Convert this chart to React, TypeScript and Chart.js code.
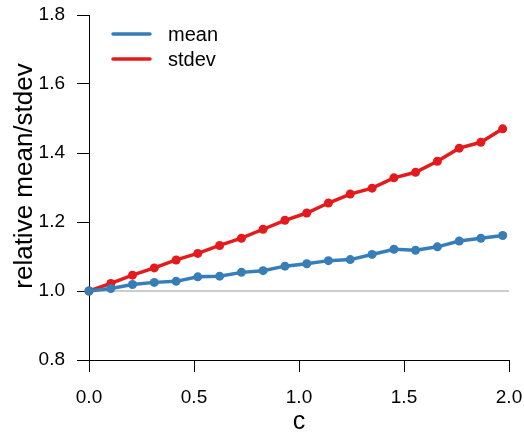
import React, { useEffect, useRef } from "react";
import { Chart, registerables } from "chart.js";

Chart.register(...registerables);

const cValues = [0, 0.104, 0.207, 0.311, 0.415, 0.518, 0.622, 0.726, 0.829, 0.933, 1.037, 1.14, 1.244, 1.348, 1.452, 1.555, 1.659, 1.763, 1.866, 1.97];
const meanValues = [1.0, 1.007, 1.019, 1.025, 1.028, 1.041, 1.043, 1.054, 1.059, 1.072, 1.079, 1.088, 1.091, 1.106, 1.121, 1.118, 1.128, 1.145, 1.153, 1.161];
const stdevValues = [1.0, 1.022, 1.046, 1.067, 1.09, 1.109, 1.132, 1.153, 1.179, 1.205, 1.226, 1.255, 1.281, 1.298, 1.328, 1.344, 1.376, 1.414, 1.431, 1.47];
const xTicks = [0, 0.5, 1.0, 1.5, 2.0];
const yTicks = [0.8, 1.0, 1.2, 1.4, 1.6, 1.8];
const seriesNames = ["mean", "stdev"];
const seriesColors = ["#377eb8", "#e41a1c"];
const xTitle = "c";
const yTitle = "relative mean/stdev";
const referenceLevel = 1.0;

const FONT = '"Liberation Sans", Arial, sans-serif';

const overlayPlugin = {
  id: "overlay",
  afterDraw(chart: any) {
    const ctx = chart.ctx;
    ctx.save();
    seriesNames.forEach((name, i) => {
      const y = 34 + i * 25;
      ctx.strokeStyle = seriesColors[i];
      ctx.lineWidth = 3.5;
      ctx.lineCap = "round";
      ctx.beginPath();
      ctx.moveTo(113, y);
      ctx.lineTo(150, y);
      ctx.stroke();
      ctx.fillStyle = "#000";
      ctx.font = `20px ${FONT}`;
      ctx.textAlign = "left";
      ctx.textBaseline = "middle";
      ctx.fillText(name, 168, y + 1);
    });
    ctx.translate(25, 176);
    ctx.rotate(-Math.PI / 2);
    ctx.textAlign = "center";
    ctx.textBaseline = "middle";
    ctx.font = `26px ${FONT}`;
    ctx.fillStyle = "#000";
    ctx.fillText(yTitle, 0, 0);
    ctx.restore();
  },
};

const noPad = (s: any) => {
  s.paddingLeft = 0;
  s.paddingRight = 0;
  s.paddingTop = 0;
  s.paddingBottom = 0;
};

export default function App() {
  const ref = useRef<HTMLCanvasElement | null>(null);
  useEffect(() => {
    if (!ref.current) return;
    const chart = new Chart(ref.current, {
      type: "line",
      data: {
        datasets: [
          {
            label: seriesNames[0],
            data: cValues.map((x, i) => ({ x, y: meanValues[i] })),
            borderColor: seriesColors[0],
            backgroundColor: seriesColors[0],
            borderWidth: 3.5,
            pointRadius: 4.5,
            pointBorderWidth: 0,
            pointBackgroundColor: seriesColors[0],
            clip: false as any,
            order: 0,
          },
          {
            label: seriesNames[1],
            data: cValues.map((x, i) => ({ x, y: stdevValues[i] })),
            borderColor: seriesColors[1],
            backgroundColor: seriesColors[1],
            borderWidth: 3.5,
            pointRadius: 4.5,
            pointBorderWidth: 0,
            pointBackgroundColor: seriesColors[1],
            clip: false as any,
            order: 1,
          },
          {
            label: "ref",
            data: [
              { x: xTicks[0], y: referenceLevel },
              { x: xTicks[xTicks.length - 1], y: referenceLevel },
            ],
            borderColor: "#999999",
            borderWidth: 1,
            pointRadius: 0,
            clip: false as any,
            order: 2,
          },
        ],
      },
      options: {
        animation: false,
        responsive: false,
        layout: { padding: { top: 15, right: 15, left: 0, bottom: 0 } },
        plugins: { legend: { display: false }, tooltip: { enabled: false } },
        scales: {
          x: {
            type: "linear",
            min: 0,
            max: 2,
            afterFit: (s: any) => {
              s.height = 72;
              noPad(s);
            },
            afterBuildTicks: (s: any) => {
              s.ticks = xTicks.map((v) => ({ value: v }));
            },
            grid: { drawOnChartArea: false, drawTicks: true, tickLength: 12, color: "#000", lineWidth: 1 },
            border: { display: true, color: "#000", width: 1 },
            ticks: {
              color: "#000",
              font: { family: FONT, size: 19 },
              padding: 14,
              maxRotation: 0,
              autoSkip: false,
              callback: (v: any) => Number(v).toFixed(1),
            },
            title: {
              display: true,
              text: xTitle,
              color: "#000",
              font: { family: FONT, size: 25, lineHeight: 0.8 },
              padding: 0,
            },
          },
          y: {
            type: "linear",
            min: 0.8,
            max: 1.8,
            afterFit: (s: any) => {
              s.width = 89;
              noPad(s);
            },
            afterBuildTicks: (s: any) => {
              s.ticks = yTicks.map((v) => ({ value: v }));
            },
            grid: { drawOnChartArea: false, drawTicks: true, tickLength: 12, color: "#000", lineWidth: 1 },
            border: { display: true, color: "#000", width: 1 },
            ticks: {
              color: "#000",
              font: { family: FONT, size: 19 },
              padding: 12,
              autoSkip: false,
              callback: (v: any) => Number(v).toFixed(1),
            },
          },
        },
      },
      plugins: [overlayPlugin],
    });
    return () => chart.destroy();
  }, []);
  return (
    <div style={{ position: "absolute", left: 0, top: 0, width: 524, height: 432, background: "#fff" }}>
      <canvas ref={ref} width={524} height={432} style={{ width: 524, height: 432 }} />
    </div>
  );
}
